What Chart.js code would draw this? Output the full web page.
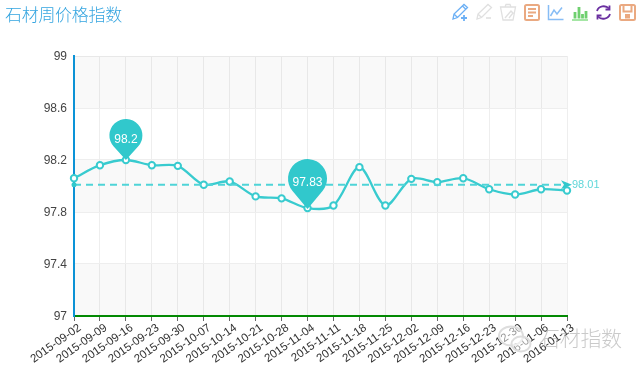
<!DOCTYPE html>
<html>
<head>
<meta charset="utf-8">
<title>石材周价格指数</title>
<script src="https://cdn.jsdelivr.net/npm/chart.js@4/dist/chart.umd.min.js"></script>
<style>
html, body { margin: 0; padding: 0; background: #fff; }
#wrap { position: relative; width: 640px; height: 370px; overflow: hidden; }
#chart { position: absolute; left: 0; top: 0; }
#title { position: absolute; left: 5px; top: 1px; font: 300 17px "Noto Sans CJK SC"; line-height: 26px; color: #35a5e0; letter-spacing: -0.3px; }
#mark { position: absolute; left: 539px; top: 321px; font: 300 21px "Noto Sans CJK SC"; line-height: 32px; color: rgba(150,150,150,0.5); letter-spacing: -0.3px; }
svg { position: absolute; fill: none; }
</style>
</head>
<body>
<div id="wrap">
	<canvas id="chart" width="640" height="370"></canvas>
	<div id="title">石材周价格指数</div>
	<div id="mark">石材指数</div>

	<svg style="left:497px;top:325px" width="38" height="30" viewBox="0 0 38 30">
		<ellipse cx="14" cy="11" rx="12" ry="9.5" stroke="#ddd" stroke-width="2" fill="#fff" fill-opacity="0.5"/>
		<ellipse cx="24" cy="19" rx="9.5" ry="7.5" stroke="#ddd" stroke-width="2" fill="#fff" fill-opacity="0.5"/>
	</svg>

	<svg style="left:451px;top:3px" width="18" height="18" stroke="#6cb0f5" stroke-width="1.3">
		<path d="M2 16 L3 11 L13 1.5 L16.5 4.5 L6.5 14.5 Z M3 11 L6.5 14.5 M11.5 3 L15 6.5"/>
		<path d="M10 15 H16 M13 12 V18" stroke-width="1.8"/>
	</svg>
	<svg style="left:475px;top:3px" width="18" height="18" stroke="#e0e0e0" stroke-width="1.3">
		<path d="M2 16 L3 11 L13 1.5 L16.5 4.5 L6.5 14.5 Z M3 11 L6.5 14.5"/>
		<path d="M11 15 H16" stroke-width="1.6"/>
	</svg>
	<svg style="left:499px;top:3px" width="18" height="18" stroke="#e0e0e0" stroke-width="1.3">
		<path d="M1.5 4 H16.5 L14 17 H4 Z M6 4 L7 1.5 H11 L12 4 M6 15 L12 8 L14 10 L10 15"/>
	</svg>
	<svg style="left:524px;top:4px" width="16" height="17" stroke="#eaa981" stroke-width="2">
		<rect x="1" y="1" width="14" height="15" rx="1.5"/>
		<path d="M4 5 H12 M4 8.5 H12 M4 12 H9" stroke-width="1.8"/>
	</svg>
	<svg style="left:547px;top:4px" width="17" height="17" stroke="#87bdf5" stroke-width="1.5">
		<path d="M1.5 1 V15.5 H16.5"/>
		<path d="M3.5 12 L7 6 L10 10 L15 3.5"/>
	</svg>
	<svg style="left:571px;top:4px" width="17" height="17">
		<path d="M1 16 H17" stroke="#8fe08f" stroke-width="1.6"/>
		<path d="M4 14.5 V8 M8 14.5 V3 M11.5 14.5 V10 M15 14.5 V7" stroke="#6fd06f" stroke-width="2.8"/>
	</svg>
	<svg style="left:595px;top:4px" width="17" height="17" stroke="#6a2fa0" stroke-width="1.8">
		<path d="M2 7 A7 6.5 0 0 1 14 4.5 M15 10 A7 6.5 0 0 1 3 12.5"/>
		<path d="M14.5 1.5 V5.5 H10.5 M2.5 15.5 V11.5 H6.5"/>
	</svg>
	<svg style="left:619px;top:4px" width="17" height="17" stroke="#eaa981" stroke-width="2">
		<rect x="1" y="1" width="15" height="15" rx="1.5"/>
		<path d="M4.5 1 V7.5 H12.5 V1"/>
		<rect x="7" y="11" width="3" height="2.5" fill="#eaa981"/>
	</svg>
</div>

<script>
var labels = ["2015-09-02","2015-09-09","2015-09-16","2015-09-23","2015-09-30","2015-10-07","2015-10-14","2015-10-21","2015-10-28","2015-11-04","2015-11-11","2015-11-18","2015-11-25","2015-12-02","2015-12-09","2015-12-16","2015-12-23","2015-12-30","2016-01-06","2016-01-13"];
var values = [98.06,98.16,98.2,98.16,98.155,98.01,98.035,97.92,97.905,97.83,97.85,98.145,97.85,98.055,98.03,98.06,97.975,97.935,97.975,97.965];
var avgValues = [98.01,98.01,98.01,98.01,98.01,98.01,98.01,98.01,98.01,98.01,98.01,98.01,98.01,98.01,98.01,98.01,98.01,98.01,98.01,98.01];
var yTicks = [97,97.4,97.8,98.2,98.6,99];
var maxIndex = 2;
var minIndex = 9;

var teal = "#31c8cc";

// striped background between the y ticks
var stripes = {
	id: "stripes",
	beforeDatasetsDraw: function(chart) {
		var ctx = chart.ctx, y = chart.scales.y, area = chart.chartArea;
		ctx.save();
		ctx.fillStyle = "rgba(120,120,120,0.045)";
		for (var i = 0; i < yTicks.length - 1; i += 2) {
			var top = y.getPixelForValue(yTicks[i + 1]);
			var bottom = y.getPixelForValue(yTicks[i]);
			ctx.fillRect(area.left, top, area.right - area.left, bottom - top);
		}
		ctx.restore();
	}
};

function drawPin(ctx, x, tipY, r, height, text) {
	var cy = tipY - height + r;
	var a = Math.acos(r / (tipY - cy));
	ctx.fillStyle = teal;
	ctx.beginPath();
	ctx.moveTo(x, tipY);
	ctx.arc(x, cy, r, Math.PI / 2 + a, Math.PI / 2 - a);
	ctx.closePath();
	ctx.fill();
	ctx.fillStyle = "#fff";
	ctx.font = "12px 'Liberation Sans'";
	ctx.textAlign = "center";
	ctx.textBaseline = "middle";
	ctx.fillText(text, x, cy + 4);
}

// max / min pins, the average arrow and its label
var marks = {
	id: "marks",
	afterDatasetsDraw: function(chart) {
		var ctx = chart.ctx, x = chart.scales.x, y = chart.scales.y;
		ctx.save();
		drawPin(ctx, x.getPixelForValue(maxIndex), y.getPixelForValue(values[maxIndex]), 16.5, 41, String(values[maxIndex]));
		drawPin(ctx, x.getPixelForValue(minIndex), y.getPixelForValue(values[minIndex]) + 1, 19.5, 50, String(values[minIndex]));

		var last = avgValues.length - 1;
		var ax = x.getPixelForValue(last), ay = y.getPixelForValue(avgValues[last]);
		ctx.fillStyle = teal;
		ctx.beginPath();
		ctx.moveTo(ax + 5, ay);
		ctx.lineTo(ax - 6, ay - 4.5);
		ctx.lineTo(ax - 3, ay);
		ctx.lineTo(ax - 6, ay + 4.5);
		ctx.closePath();
		ctx.fill();
		ctx.beginPath();
		ctx.arc(x.getPixelForValue(0), ay, 2.5, 0, Math.PI * 2);
		ctx.fill();

		ctx.fillStyle = "#5ed6d9";
		ctx.font = "11px 'Liberation Sans'";
		ctx.textAlign = "left";
		ctx.textBaseline = "middle";
		ctx.fillText(String(avgValues[last]), ax + 5, ay);
		ctx.restore();
	}
};

var ctx = document.getElementById("chart");
var myChart = new Chart(ctx, {
	type: "line",
	data: {
		labels: labels,
		datasets: [{
			label: "平均值",
			data: avgValues,
			borderColor: "#4fd4d7",
			borderWidth: 2,
			borderDash: [7, 5],
			pointRadius: 0,
			tension: 0
		}, {
			label: "石材周价格指数",
			data: values,
			borderColor: "#38cbcf",
			borderWidth: 2.3,
			backgroundColor: "#fff",
			pointBackgroundColor: "#fff",
			pointBorderColor: "#38cbcf",
			pointBorderWidth: 2,
			pointRadius: 3.2,
			tension: 0.3
		}]
	},
	plugins: [stripes, marks],
	options: {
		responsive: false,
		animation: false,
		layout: { padding: { top: 56, right: 73, left: 0, bottom: 0 } },
		plugins: {
			legend: { display: false },
			title: { display: false },
			tooltip: { enabled: false }
		},
		scales: {
			x: {
				offset: false,
				afterFit: function(scale) { scale.height = 54; },
				border: { color: "#008a00", width: 2 },
				grid: { color: "#eeeeee", lineWidth: 1, tickColor: "#666", tickLength: 5 },
				ticks: {
					autoSkip: false,
					minRotation: 35,
					maxRotation: 35,
					color: "#333",
					padding: 0,
					labelOffset: 6,
					font: { family: "'Liberation Sans'", size: 11.5 }
				}
			},
			y: {
				min: 97,
				max: 99,
				afterFit: function(scale) { scale.width = 74; },
				afterBuildTicks: function(scale) {
					scale.ticks = yTicks.map(function(v) { return { value: v }; });
				},
				border: { color: "#0a93d8", width: 2 },
				grid: { color: "#eeeeee", lineWidth: 1, tickLength: 0 },
				ticks: {
					color: "#444",
					padding: 7,
					labelOffset: 1,
					font: { family: "'Liberation Sans'", size: 12 },
					callback: function(v) { return String(v); }
				}
			}
		}
	}
});
</script>
</body>
</html>
